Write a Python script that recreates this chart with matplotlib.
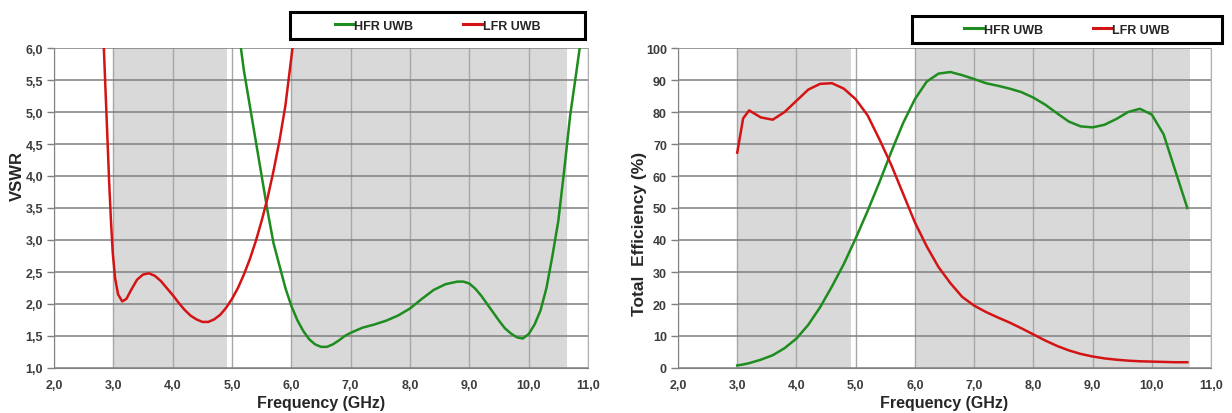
import numpy as np
import matplotlib
matplotlib.use("Agg")
import matplotlib.pyplot as plt
from matplotlib.patches import Rectangle
from matplotlib.ticker import FuncFormatter, MultipleLocator

plt.rcParams['font.family'] = ['Liberation Sans', 'DejaVu Sans']
plt.rcParams['font.weight'] = 'bold'

# VSWR, low-frequency resonator
vswr_lfr_f = [2.84, 2.87, 2.90, 2.93, 2.96, 2.99, 3.03, 3.08, 3.15, 3.22, 3.30, 3.40,
              3.50, 3.60, 3.70, 3.80, 3.90, 4.00, 4.10, 4.20, 4.30, 4.40, 4.50, 4.60,
              4.70, 4.80, 4.90, 5.00, 5.10, 5.20, 5.30, 5.40, 5.50, 5.60, 5.70, 5.80,
              5.90, 6.02]
vswr_lfr = [6.00, 5.30, 4.60, 3.90, 3.30, 2.80, 2.40, 2.15, 2.04, 2.08, 2.22, 2.38,
            2.46, 2.48, 2.44, 2.36, 2.25, 2.14, 2.02, 1.91, 1.82, 1.76, 1.72, 1.72,
            1.76, 1.83, 1.94, 2.08, 2.25, 2.46, 2.70, 2.98, 3.30, 3.66, 4.08, 4.55,
            5.10, 6.00]

# VSWR, high-frequency resonator
vswr_hfr_f = [5.15, 5.20, 5.30, 5.40, 5.50, 5.60, 5.70, 5.80, 5.90, 6.00, 6.10, 6.20,
              6.30, 6.40, 6.50, 6.60, 6.70, 6.80, 6.90, 7.00, 7.20, 7.40, 7.60, 7.80,
              8.00, 8.20, 8.40, 8.60, 8.80, 8.90, 9.00, 9.10, 9.20, 9.30, 9.40, 9.50,
              9.60, 9.70, 9.80, 9.90, 10.00, 10.10, 10.20, 10.30, 10.40, 10.50, 10.60,
              10.70, 10.80, 10.86]
vswr_hfr = [6.00, 5.65, 5.10, 4.55, 4.00, 3.45, 2.95, 2.60, 2.25, 1.97, 1.75, 1.58,
            1.45, 1.37, 1.33, 1.33, 1.37, 1.43, 1.50, 1.55, 1.63, 1.68, 1.74, 1.82,
            1.93, 2.08, 2.22, 2.31, 2.35, 2.35, 2.32, 2.24, 2.13, 2.00, 1.87, 1.74,
            1.62, 1.54, 1.48, 1.46, 1.53, 1.68, 1.90, 2.25, 2.75, 3.30, 4.10,
            4.95, 5.60, 6.00]

# total efficiency (%)
eff_f = [3.0, 3.1, 3.2, 3.4, 3.6, 3.8, 4.0, 4.2, 4.4, 4.6, 4.8, 5.0, 5.2, 5.4, 5.6,
         5.8, 6.0, 6.2, 6.4, 6.6, 6.8, 7.0, 7.2, 7.4, 7.6, 7.8, 8.0, 8.2, 8.4, 8.6,
         8.8, 9.0, 9.2, 9.4, 9.6, 9.8, 10.0, 10.2, 10.4, 10.6]
eff_lfr = [67.3, 78.0, 80.5, 78.3, 77.6, 80.0, 83.5, 87.0, 88.8, 89.0, 87.3, 84.0,
           79.0, 71.5, 63.5, 54.5, 45.5, 38.0, 31.5, 26.5, 22.2, 19.5, 17.5, 15.8,
           14.2, 12.4, 10.5, 8.6, 6.9, 5.5, 4.4, 3.6, 3.0, 2.6, 2.3, 2.1, 2.0, 1.9,
           1.8, 1.8]
eff_hfr = [0.8, 1.1, 1.5, 2.6, 4.0, 6.2, 9.2, 13.5, 19.0, 25.5, 32.5, 40.5, 49.0,
           58.0, 67.5, 76.5, 84.0, 89.5, 92.0, 92.5, 91.5, 90.3, 89.0, 88.2, 87.3,
           86.2, 84.5, 82.3, 79.6, 77.0, 75.5, 75.2, 76.0, 77.8, 80.0, 81.0, 79.2,
           73.0, 61.5, 50.0]

bands = [(3.0, 4.92), (6.0, 10.64)]
green = '#1e8c1e'
red = '#d41414'
tick_col = '#3c3c3c'

fig = plt.figure(figsize=(12.32, 4.14), dpi=100)
ax1 = fig.add_axes([54 / 1232, 45 / 414, 534 / 1232, 320 / 414])
ax2 = fig.add_axes([678 / 1232, 45 / 414, 533 / 1232, 320 / 414])

comma = FuncFormatter(lambda v, p: f"{v:.1f}".replace('.', ','))

def style(ax):
    for a, b in bands:
        ax.axvspan(a, b, color='#d9d9d9', zorder=0, lw=0)
    ax.set_xlim(2, 11)
    ax.xaxis.set_major_locator(MultipleLocator(1))
    ax.xaxis.set_major_formatter(comma)
    ax.grid(axis='y', color='#7f7f7f', lw=1.1, zorder=1)
    ax.grid(axis='x', color='#a8a8a8', lw=1.0, zorder=1)
    ax.set_axisbelow(True)
    for s in ax.spines.values():
        s.set_color('#b0b0b0')
    ax.spines['left'].set_color('#808080')
    ax.spines['bottom'].set_color('#808080')
    ax.spines['top'].set_visible(False)
    ax.tick_params(labelsize=9, colors=tick_col, width=1, color='#808080')
    ax.tick_params(axis='y', length=5, pad=3)
    ax.tick_params(axis='x', length=0, pad=8)
    for lab in ax.get_xticklabels() + ax.get_yticklabels():
        lab.set_fontweight('bold')
    ax.set_xlabel('Frequency (GHz)', fontsize=11.5, fontweight='bold',
                  color='#262626', labelpad=3)

ax1.plot(vswr_hfr_f, vswr_hfr, color=green, lw=1.8, label='HFR UWB', zorder=3)
ax1.plot(vswr_lfr_f, vswr_lfr, color=red, lw=1.8, label='LFR UWB', zorder=3)
ax1.set_ylim(1, 6)
ax1.yaxis.set_major_locator(MultipleLocator(0.5))
ax1.yaxis.set_major_formatter(comma)
style(ax1)
ax1.set_ylabel('VSWR', fontsize=12, fontweight='bold', color='#262626')
ax1.yaxis.set_label_coords(-0.054, 0.603)

ax2.plot(eff_f, eff_hfr, color=green, lw=1.8, label='HFR UWB', zorder=3)
ax2.plot(eff_f, eff_lfr, color=red, lw=1.8, label='LFR UWB', zorder=3)
ax2.set_ylim(0, 100)
ax2.yaxis.set_major_locator(MultipleLocator(10))
style(ax2)
ax2.set_ylabel('Total  Efficiency (%)', fontsize=12.5, fontweight='bold',
               color='#262626')
ax2.yaxis.set_label_coords(-0.058, 0.422)

# legend boxes above each panel
for ax, (x0, x1, y0, y1) in [(ax1, (290, 585, 13, 40)), (ax2, (912, 1222, 17, 44))]:
    fig.patches.append(Rectangle((x0 / 1232, 1 - y1 / 414), (x1 - x0) / 1232,
                                 (y1 - y0) / 414, transform=fig.transFigure,
                                 fill=True, facecolor='white', edgecolor='black',
                                 lw=2.2, zorder=-1))
    leg = ax.legend(loc='center', bbox_to_anchor=((x0 + x1) / 2 / 1232,
                                                  1 - (y0 + y1) / 2 / 414),
                    bbox_transform=fig.transFigure, ncol=2, frameon=False,
                    handlelength=1.5, handletextpad=0.05, columnspacing=4.0,
                    prop={'size': 9, 'weight': 'bold'})
    for t in leg.get_texts():
        t.set_color('#262626')
    for h in leg.get_lines():
        h.set_linewidth(2.2)

fig.savefig('out.png', dpi=100)
